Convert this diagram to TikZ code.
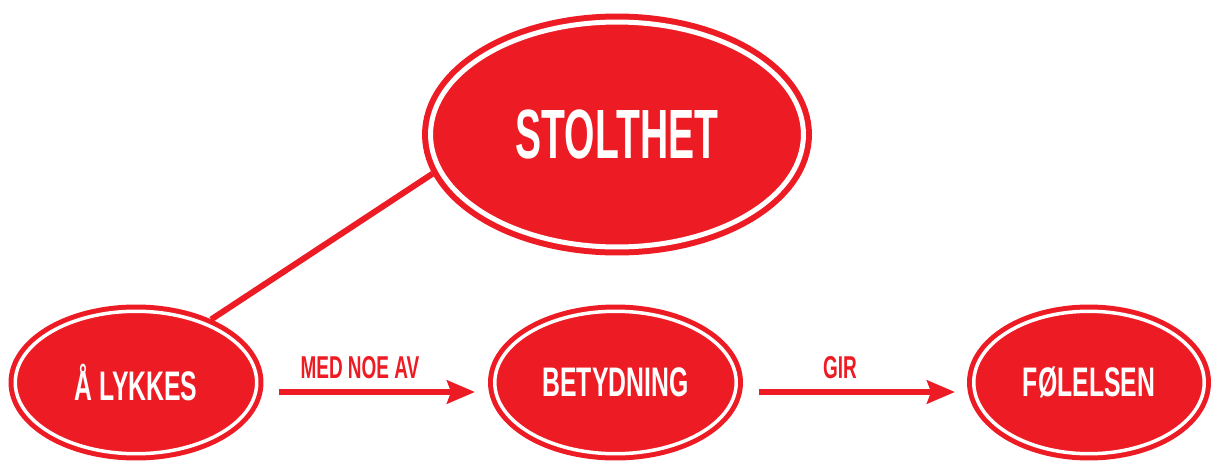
\documentclass[tikz,border=0pt]{standalone}
\usepackage{fontspec}
\usepackage{tikz}
\usetikzlibrary{shapes.geometric}
\usetikzlibrary{arrows.meta}
\usetikzlibrary{positioning}

\newfontfamily\narrowsans[FakeStretch=0.6]{Liberation Sans}
\newfontfamily\tallsans[FakeStretch=0.56]{Liberation Sans}
\definecolor{signalred}{HTML}{ED1C24}

\begin{document}
\begin{tikzpicture}[x=0.02cm,y=0.02cm,
    ring/.style={ellipse, fill=signalred, draw=signalred, double=white,
                 inner sep=0pt, text=white, font=\narrowsans\bfseries},
    bigring/.style={ring, line width=0.12cm, double distance=0.1cm,
                    minimum width=7.46cm, minimum height=4.5cm, outer sep=0.17cm},
    smallring/.style={ring, line width=0.1cm, double distance=0.07cm,
                      minimum height=2.85cm, outer sep=0.135cm},
    link/.style={draw=signalred, line width=0.12cm},
    arrowline/.style={draw=signalred, line width=0.13cm,
                      -{Stealth[length=15.9pt, width=13.1pt, inset=2.3pt]}},
    arrowlabel/.style={text=signalred, inner sep=0pt, font=\narrowsans\bfseries\fontsize{18}{20}\selectfont}]
    \useasboundingbox (0,0) rectangle (1211,461);

    \node[bigring, font=\tallsans\bfseries\fontsize{39.7}{44}\selectfont] (stolthet) at (617,326.5) {STOLTHET};

    \node[smallring, minimum width=4.83cm, font=\narrowsans\bfseries\fontsize{23.5}{26}\selectfont] (lykkes) at (136,78.5) {Å LYKKES};
    \node[smallring, minimum width=4.83cm, font=\narrowsans\bfseries\fontsize{23.5}{26}\selectfont] (betydning) at (615.5,78.5) {BETYDNING};
    \node[smallring, minimum width=4.61cm, font=\narrowsans\bfseries\fontsize{23.5}{26}\selectfont] (folelsen) at (1089,78.5) {FØLELSEN};

    \draw[link] (stolthet.192.9) -- (lykkes.40.8);

    \draw[arrowline] ([shift={(15.5,-9.5)}]lykkes.east) -- ([shift={(-13,-9.5)}]betydning.west)
        node[arrowlabel, pos=0.413, above=0.2cm] (medlabel) {MED NOE AV};
    \draw[arrowline] ([shift={(16,-9.5)}]betydning.east) -- ([shift={(-12,-9.5)}]folelsen.west)
        node[arrowlabel, pos=0.413, above=0.2cm] (girlabel) {GIR};
\end{tikzpicture}
\end{document}
